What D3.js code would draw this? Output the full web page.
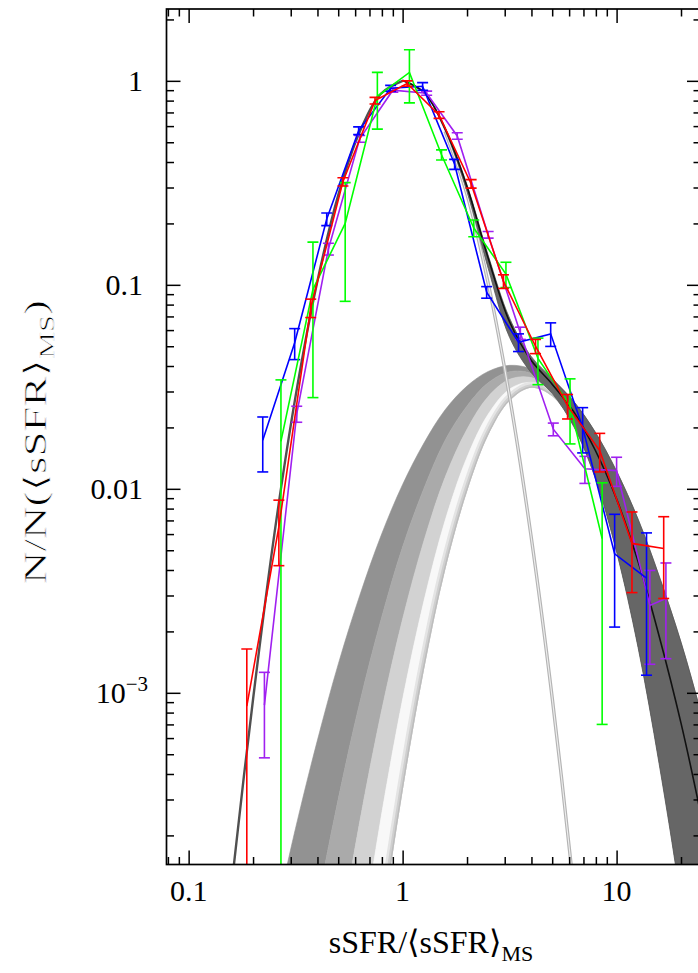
<!DOCTYPE html>
<html>
<head>
<meta charset="utf-8">
<script src="https://cdn.jsdelivr.net/npm/d3@7"></script>
<style>
  html, body { margin: 0; padding: 0; background: #fff; }
  svg { display: block; }
  text { font-family: "Liberation Serif", "DejaVu Serif", serif; fill: #000; }
</style>
</head>
<body>
<svg id="chart" width="698" height="973"></svg>
<script>
// observed bins
const redX = [0.187, 0.264, 0.372, 0.526, 0.743, 1.05, 1.48, 2.09, 2.96, 4.18, 5.90, 8.34, 11.8, 16.6];
const redY = [8.6e-4, 0.0065, 0.0771, 0.32, 0.80, 0.97, 0.68, 0.313, 0.104, 0.050, 0.0255, 0.0154, 0.0054, 0.0051];
const redErr = [7.8e-4, 0.0023, 0.008, 0.015, 0.03, 0.03, 0.025, 0.015, 0.008, 0.004, 0.0035, 0.0033, 0.0023, 0.0022];

const blueX = [0.222, 0.313, 0.442, 0.623, 0.879, 1.24, 1.75, 2.47, 3.48, 4.92, 6.94, 9.79, 13.8];
const blueY = [0.0173, 0.052, 0.21, 0.57, 0.92, 0.94, 0.39, 0.092, 0.0523, 0.0575, 0.020, 0.0048, 0.00365];
const blueErr = [0.0052, 0.009, 0.015, 0.025, 0.03, 0.04, 0.022, 0.006, 0.0052, 0.0076, 0.005, 0.0027, 0.00243];

const greenX = [0.270, 0.381, 0.539, 0.762, 1.076, 1.52, 2.15, 3.04, 4.29, 6.06, 8.56];
const greenY = [0.0171, 0.095, 0.20, 0.84, 1.10, 0.434, 0.190, 0.113, 0.0436, 0.0256, 0.0057];
const greenErr = [0.0171, 0.067, 0.117, 0.26, 0.32, 0.025, 0.018, 0.016, 0.0112, 0.0090, 0.0050];

const purpleX = [0.226, 0.320, 0.45, 0.63, 0.90, 1.295, 1.80, 2.51, 3.55, 5.06, 7.11, 10.0, 14.3, 17.0];
const purpleY = [8.7e-4, 0.0233, 0.15, 0.52, 0.90, 0.87, 0.537, 0.176, 0.058, 0.0196, 0.01253, 0.01228, 0.00268, 0.0029];
const purpleErr = [3.9e-4, 0.0021, 0.01, 0.02, 0.02, 0.02, 0.02, 0.0065, 0.004, 0.0014, 0.0019, 0.0020, 0.0013, 0.00143];

// main-sequence model curve
const msX = [0.141, 0.158, 0.2, 0.251, 0.316, 0.398, 0.501, 0.631, 0.794, 1, 1.26, 1.58, 2.0, 2.51, 3.16, 3.98, 5.01, 6.31, 7.08];
const msY = [3.4e-5, 1.09e-4, 9.3e-4, 5.9e-3, 0.0284, 0.102, 0.277, 0.565, 0.867, 1, 0.867, 0.565, 0.277, 0.102, 0.0284, 5.9e-3, 9.3e-4, 1.09e-4, 3.4e-5];

// starburst model family, outer (broad) to inner (narrow)
const sbX = [0.251, 0.316, 0.398, 0.501, 0.631, 0.794, 1, 1.26, 1.58, 2.0, 2.51, 3.16, 3.98, 5.01, 6.31, 7.94, 10, 12.6, 15.8, 20.0, 25.1, 31.6, 39.8];
const sbOuter = [7.4e-5, 2.17e-4, 5.75e-4, 1.39e-3, 3.01e-3, 5.92e-3, 0.0105, 0.0168, 0.0244, 0.0319, 0.0376, 0.0403, 0.0388, 0.0338, 0.0267, 0.0190, 0.0122, 7.1e-3, 3.74e-3, 1.77e-3, 7.6e-4, 3.0e-4, 1.04e-4];
const sbMid1 = [5.3e-6, 2.3e-5, 9.0e-5, 3.05e-4, 9.0e-4, 2.3e-3, 5.2e-3, 0.0101, 0.0173, 0.0255, 0.0331, 0.0375, 0.0369, 0.0316, 0.0237, 0.0155, 8.9e-3, 4.4e-3, 1.9e-3, 7.1e-4, 2.36e-4, 6.8e-5, 1.7e-5];
const sbMid2 = [3.0e-7, 2.1e-6, 1.2e-5, 5.75e-5, 2.35e-4, 8.0e-4, 2.3e-3, 5.6e-3, 0.0114, 0.0196, 0.0283, 0.0344, 0.0351, 0.0301, 0.0219, 0.0133, 6.8e-3, 2.93e-3, 1.06e-3, 3.2e-4, 8.3e-5, 1.8e-5, 3.2e-6];
const sbMid3 = [1.5e-8, 1.5e-7, 1.4e-6, 9.3e-6, 5.3e-5, 2.47e-4, 9.3e-4, 2.84e-3, 7.0e-3, 0.0143, 0.0232, 0.0308, 0.0332, 0.0291, 0.0207, 0.0120, 5.6e-3, 2.13e-3, 6.6e-4, 1.64e-4, 3.3e-5, 5.5e-6, 7.2e-7];
const sbInner = [6e-10, 9e-9, 1.3e-7, 1.3e-6, 1.05e-5, 6.7e-5, 3.3e-4, 1.31e-3, 4.0e-3, 9.7e-3, 0.0183, 0.0270, 0.0313, 0.0284, 0.0201, 0.0113, 4.9e-3, 1.67e-3, 4.5e-4, 9.4e-5, 1.5e-5, 2.0e-6, 1.8e-7];

// total (MS + SB) from x = 1 upward, on sbX[6..]
const totOuter = [1.0105, 0.8838, 0.5894, 0.3089, 0.1399, 0.0687, 0.0447, 0.0347, 0.0268, 0.0190, 0.0122, 7.1e-3, 3.74e-3, 1.77e-3, 7.6e-4, 3.0e-4, 1.04e-4];
const totMid = [1.0052, 0.8771, 0.5823, 0.3025, 0.1354, 0.0659, 0.0428, 0.0325, 0.0238, 0.0155, 8.9e-3, 4.4e-3, 1.9e-3, 7.1e-4, 2.36e-4, 6.8e-5, 1.7e-5];
const totInner = [1.0003, 0.8683, 0.569, 0.2867, 0.1206, 0.0553, 0.0372, 0.0293, 0.0202, 0.0113, 4.9e-3, 1.67e-3, 4.5e-4, 9.4e-5, 1.5e-5, 2.0e-6, 1.8e-7];

const xMajor = [0.1, 1, 10];
const xMinor = [0.08, 0.09, 0.2, 0.3, 0.4, 0.5, 0.6, 0.7, 0.8, 0.9, 2, 3, 4, 5, 6, 7, 8, 9, 20];
const yMajor = [1e-3, 0.01, 0.1, 1];
const yMinor = [2e-4, 3e-4, 4e-4, 5e-4, 6e-4, 7e-4, 8e-4, 9e-4, 2e-3, 3e-3, 4e-3, 5e-3, 6e-3, 7e-3, 8e-3, 9e-3,
  0.02, 0.03, 0.04, 0.05, 0.06, 0.07, 0.08, 0.09, 0.2, 0.3, 0.4, 0.5, 0.6, 0.7, 0.8, 0.9, 2];

const svg = d3.select("#chart");
const plotLeft = 166.5, plotRight = 701, plotTop = 9, plotBottom = 864.5;

const x = d3.scaleLog().domain([0.0788, 24.8]).range([plotLeft, plotRight]);
const y = d3.scaleLog().domain([1.44e-4, 2.25]).range([plotBottom, plotTop]);

const defs = svg.append("defs");
defs.append("clipPath").attr("id", "plot-clip")
  .append("rect")
  .attr("x", plotLeft).attr("y", plotTop)
  .attr("width", plotRight - plotLeft).attr("height", plotBottom - plotTop);

const plot = svg.append("g").attr("clip-path", "url(#plot-clip)");

// starburst band, drawn as stripes between neighbouring curves
const sbCurves = [sbOuter, sbMid1, sbMid2, sbMid3, sbInner];
const stripeFill = ["#929292", "#aaaaaa", "#d2d2d2", "#f8f8f8"];

function stripe(upper, lower) {
  return d3.area()
    .x((d, i) => x(sbX[i]))
    .y1((d, i) => y(upper[i]))
    .y0((d, i) => y(lower[i]))
    .curve(d3.curveCatmullRom)(sbX);
}

defs.append("clipPath").attr("id", "sb-clip")
  .append("path").attr("d", stripe(sbOuter, sbInner));

stripeFill.forEach((fill, i) => {
  plot.append("path")
    .attr("d", stripe(sbCurves[i], sbCurves[i + 1]))
    .attr("fill", fill)
    .attr("stroke", fill)
    .attr("stroke-width", 0.6);
});

const lineFrom = (xs, ys) => d3.line()
  .x((d, i) => x(xs[i]))
  .y((d, i) => y(ys[i]))
  .curve(d3.curveCatmullRom)(xs);

// soft grey lip along the inner edge of the band
const lip = plot.append("g").attr("clip-path", "url(#sb-clip)");
[[12, "#e4e4e4"], [7, "#cfcfcf"], [3, "#bdbdbd"]].forEach(([w, c]) => {
  lip.append("path")
    .attr("d", lineFrom(sbX, sbInner))
    .attr("fill", "none")
    .attr("stroke", c)
    .attr("stroke-width", w);
});

// main-sequence alone: light grey double line on the falling side
const msRightX = msX.slice(11);
const msRightY = msY.slice(11);
plot.append("path")
  .attr("d", lineFrom(msRightX, msRightY))
  .attr("fill", "none")
  .attr("stroke", "#b4b4b4")
  .attr("stroke-width", 3.4);
plot.append("path")
  .attr("d", lineFrom(msRightX, msRightY))
  .attr("fill", "none")
  .attr("stroke", "#eeeeee")
  .attr("stroke-width", 1.1);

// total model band
const totX = sbX.slice(6);
plot.append("path")
  .attr("d", d3.area()
    .x((d, i) => x(totX[i]))
    .y1((d, i) => y(totOuter[i]))
    .y0((d, i) => y(totInner[i]))
    .curve(d3.curveCatmullRom)(totX))
  .attr("fill", "#666")
  .attr("stroke", "#555")
  .attr("stroke-width", 0.8);

plot.append("path")
  .attr("d", lineFrom(msX.slice(0, 10), msY.slice(0, 10)))
  .attr("fill", "none")
  .attr("stroke", "#505050")
  .attr("stroke-width", 2.4);

plot.append("path")
  .attr("d", lineFrom(totX, totMid))
  .attr("fill", "none")
  .attr("stroke", "#111")
  .attr("stroke-width", 1.6);

// observed distributions
const series = [
  { color: "#a020f0", xs: purpleX, ys: purpleY, errs: purpleErr },
  { color: "#0000ff", xs: blueX, ys: blueY, errs: blueErr },
  { color: "#00ff00", xs: greenX, ys: greenY, errs: greenErr },
  { color: "#ff0000", xs: redX, ys: redY, errs: redErr },
];

const floor = 1e-6;
series.forEach((s) => {
  const g = plot.append("g")
    .attr("stroke", s.color)
    .attr("stroke-width", 1.6)
    .attr("fill", "none");

  g.append("path").attr("d", d3.line()
    .x((d, i) => x(s.xs[i]))
    .y((d, i) => y(s.ys[i]))(s.xs));

  const pts = s.xs.map((v, i) => ({
    x: v,
    hi: s.ys[i] + s.errs[i],
    lo: Math.max(s.ys[i] - s.errs[i], floor),
  }));

  g.selectAll(".bar").data(pts).join("line")
    .attr("class", "bar")
    .attr("x1", (d) => x(d.x)).attr("x2", (d) => x(d.x))
    .attr("y1", (d) => y(d.hi)).attr("y2", (d) => y(d.lo));

  g.selectAll(".cap-hi").data(pts).join("line")
    .attr("class", "cap-hi")
    .attr("x1", (d) => x(d.x) - 5.5).attr("x2", (d) => x(d.x) + 5.5)
    .attr("y1", (d) => y(d.hi)).attr("y2", (d) => y(d.hi));

  g.selectAll(".cap-lo").data(pts.filter((d) => d.lo > floor)).join("line")
    .attr("class", "cap-lo")
    .attr("x1", (d) => x(d.x) - 5.5).attr("x2", (d) => x(d.x) + 5.5)
    .attr("y1", (d) => y(d.lo)).attr("y2", (d) => y(d.lo));
});

// frame and ticks
svg.append("rect")
  .attr("x", plotLeft).attr("y", plotTop)
  .attr("width", plotRight - plotLeft).attr("height", plotBottom - plotTop)
  .attr("fill", "none").attr("stroke", "#000").attr("stroke-width", 1.7);

function tickAxis(axis, scale, values, size, transform) {
  svg.append("g")
    .attr("transform", transform)
    .call(axis(scale).tickValues(values).tickSize(size).tickFormat(""))
    .call((g) => g.select(".domain").remove())
    .call((g) => g.selectAll("line").attr("stroke", "#000").attr("stroke-width", 1.5));
}

tickAxis(d3.axisBottom, x, xMajor, -14, `translate(0,${plotBottom})`);
tickAxis(d3.axisBottom, x, xMinor, -7.5, `translate(0,${plotBottom})`);
tickAxis(d3.axisTop, x, xMajor, -14, `translate(0,${plotTop})`);
tickAxis(d3.axisTop, x, xMinor, -7.5, `translate(0,${plotTop})`);
tickAxis(d3.axisLeft, y, yMajor, -14, `translate(${plotLeft},0)`);
tickAxis(d3.axisLeft, y, yMinor, -7.5, `translate(${plotLeft},0)`);
tickAxis(d3.axisRight, y, yMajor, -14, `translate(${plotRight},0)`);
tickAxis(d3.axisRight, y, yMinor, -7.5, `translate(${plotRight},0)`);

// tick labels
const xLabels = ["0.1", "1", "10"];
svg.append("g").selectAll("text").data(xMajor).join("text")
  .attr("x", (d) => x(d))
  .attr("y", 901)
  .attr("text-anchor", "middle")
  .attr("font-size", 30)
  .text((d, i) => xLabels[i]);

const yLabels = ["", "0.01", "0.1", "1"];
svg.append("g").selectAll("text").data(yMajor.slice(1)).join("text")
  .attr("x", 143)
  .attr("y", (d) => y(d))
  .attr("dy", "0.34em")
  .attr("text-anchor", "end")
  .attr("font-size", 30)
  .text((d, i) => yLabels[i + 1]);

const expLabel = svg.append("text")
  .attr("x", 148)
  .attr("y", y(1e-3))
  .attr("dy", "0.34em")
  .attr("text-anchor", "end")
  .attr("font-size", 30);
expLabel.append("tspan").text("10");
expLabel.append("tspan").attr("font-size", 21).attr("dy", -12).text("\u22123");

// axis titles
const xTitle = svg.append("text")
  .attr("x", 431)
  .attr("y", 953)
  .attr("text-anchor", "middle")
  .attr("font-size", 32);
xTitle.append("tspan").text("sSFR/\u27e8sSFR\u27e9");
xTitle.append("tspan").attr("font-size", 22).attr("dy", 8).text("MS");

// stretched along its length like the original; a thin white outline keeps the strokes light
const yTitle = svg.append("text")
  .attr("transform", "translate(46,442) rotate(-90) scale(1.45,1)")
  .attr("text-anchor", "middle")
  .attr("font-size", 31)
  .attr("stroke", "#fff")
  .attr("stroke-width", 0.7);
yTitle.append("tspan").text("N/N(\u27e8sSFR\u27e9");
yTitle.append("tspan").attr("font-size", 21).attr("dy", 8).text("MS");
yTitle.append("tspan").attr("dy", -8).text(")");
</script>
</body>
</html>
